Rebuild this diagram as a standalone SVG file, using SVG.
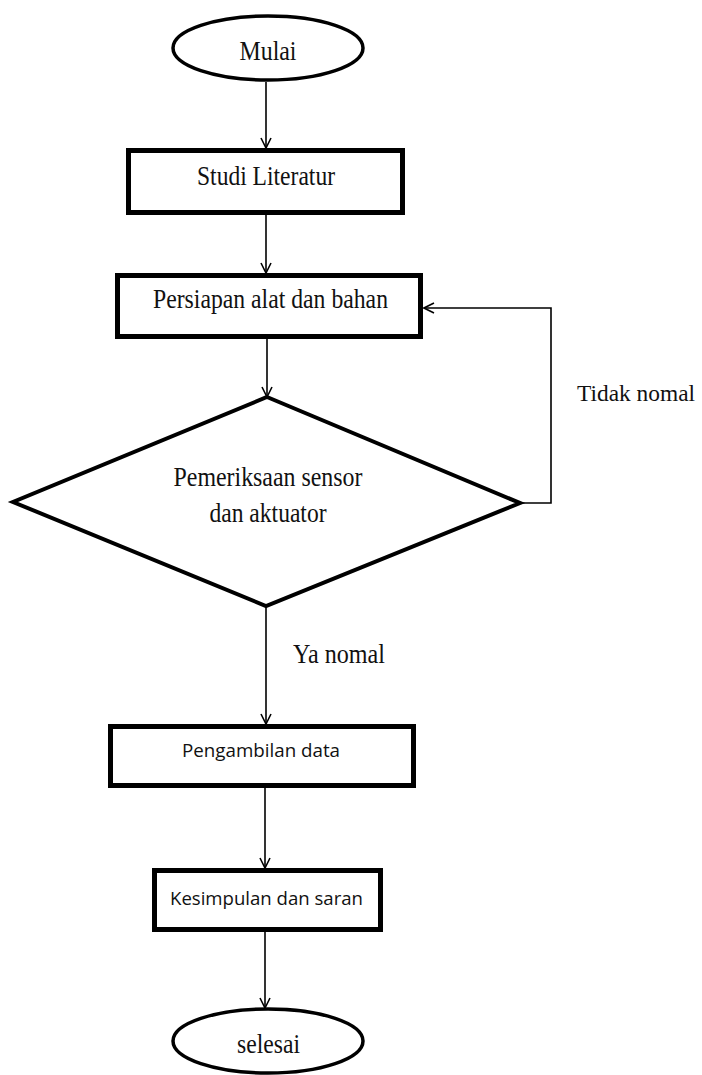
<svg xmlns="http://www.w3.org/2000/svg" width="702" height="1075" viewBox="0 0 702 1075">
<style>
.bg{fill:#fff}
.term{fill:#fff;stroke:#000;stroke-width:3.5}
.box{fill:#fff;stroke:#000;stroke-width:5}
.dec{fill:#fff;stroke:#000;stroke-width:4}
.edge{fill:none;stroke:#000;stroke-width:1.6}
.serif{font-family:"Liberation Serif","Times New Roman",serif;font-size:27px;fill:#111}
.lbl{font-family:"Liberation Serif","Times New Roman",serif;font-size:24px;fill:#111}
.sans{font-family:"Open Sans","Noto Sans",sans-serif;font-size:19px;fill:#111}
</style>
<defs>
<marker id="arr" viewBox="0 0 12 12" refX="11" refY="6" markerWidth="12" markerHeight="12" markerUnits="userSpaceOnUse" orient="auto">
<path d="M1,1 L11,6 L1,11" fill="none" stroke="#000" stroke-width="1.6"/>
</marker>
</defs>
<rect class="bg" x="0" y="0" width="702" height="1075"/>
<g id="connectors">
<line class="edge" x1="266" y1="82" x2="266" y2="148" marker-end="url(#arr)"/>
<line class="edge" x1="266" y1="215" x2="266" y2="273" marker-end="url(#arr)"/>
<line class="edge" x1="267" y1="339" x2="267" y2="397" marker-end="url(#arr)"/>
<line class="edge" x1="266" y1="606" x2="266" y2="724" marker-end="url(#arr)"/>
<line class="edge" x1="265" y1="788" x2="265" y2="868" marker-end="url(#arr)"/>
<line class="edge" x1="265" y1="932" x2="265" y2="1008" marker-end="url(#arr)"/>
<polyline class="edge" points="520,503 551,503 551,308 424,308" marker-end="url(#arr)"/>
<text class="lbl" x="577" y="401" textLength="118" lengthAdjust="spacingAndGlyphs">Tidak nomal</text>
<text class="serif" x="293" y="663" textLength="92" lengthAdjust="spacingAndGlyphs">Ya nomal</text>
</g>
<g id="mulai">
<ellipse class="term" cx="268" cy="48" rx="95" ry="32"/>
<text class="serif" x="268" y="60" text-anchor="middle" textLength="57" lengthAdjust="spacingAndGlyphs">Mulai</text>
</g>
<g id="studi">
<rect class="box" x="128.5" y="150.5" width="274" height="62"/>
<text class="serif" x="266" y="185" text-anchor="middle" textLength="138" lengthAdjust="spacingAndGlyphs">Studi Literatur</text>
</g>
<g id="persiapan">
<rect class="box" x="117.5" y="275.5" width="303" height="61"/>
<text class="serif" x="270.5" y="308" text-anchor="middle" textLength="235" lengthAdjust="spacingAndGlyphs">Persiapan alat dan bahan</text>
</g>
<g id="pemeriksaan">
<polygon class="dec" points="267,397 520,503 266,606 13,502"/>
<text class="serif" x="268" y="486" text-anchor="middle" textLength="189" lengthAdjust="spacingAndGlyphs">Pemeriksaan sensor</text>
<text class="serif" x="268" y="522" text-anchor="middle" textLength="117" lengthAdjust="spacingAndGlyphs">dan aktuator</text>
</g>
<g id="pengambilan">
<rect class="box" x="110.5" y="726.5" width="303" height="59"/>
<text class="sans" x="261" y="757" text-anchor="middle" textLength="158" lengthAdjust="spacingAndGlyphs">Pengambilan data</text>
</g>
<g id="kesimpulan">
<rect class="box" x="154.5" y="870.5" width="226" height="59"/>
<text class="sans" x="266.5" y="905" text-anchor="middle" textLength="193" lengthAdjust="spacingAndGlyphs">Kesimpulan dan saran</text>
</g>
<g id="selesai">
<ellipse class="term" cx="268" cy="1041" rx="95" ry="32"/>
<text class="serif" x="268.5" y="1053" text-anchor="middle" textLength="63" lengthAdjust="spacingAndGlyphs">selesai</text>
</g>
</svg>
